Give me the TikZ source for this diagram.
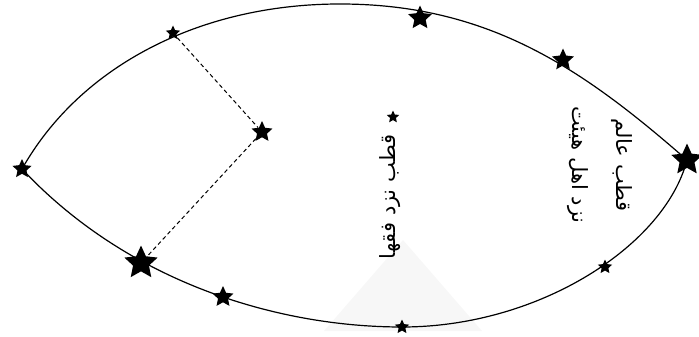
\documentclass[tikz,border=0pt]{standalone}
\usepackage{fontspec}
\newfontfamily\arabicfont[Script=Arabic]{DejaVu Sans}
\TeXXeTstate=1
\usetikzlibrary{shapes.geometric}

\begin{document}
\begin{tikzpicture}[x=1pt, y=-1pt,
    st/.style={star, star points=5, star point ratio=2.1, fill=black,
               inner sep=0pt, minimum size=#1},
    st/.default=15pt,
    rim/.style={line width=1.2pt},
    dsh/.style={line width=1pt, dash pattern=on 4pt off 3pt},
    lbl/.style={font=\arabicfont\fontsize{21}{44}\selectfont,
                align=center, inner sep=0pt}
  ]
  \useasboundingbox (0,0) rectangle (699,337);

  \fill[black!3] (403,240) -- (482,331) -- (324,331) -- cycle;

  % the two arcs of the lens
  \draw[rim] (22,169) .. controls (80,66) and (200,4) .. (340,4)
                      .. controls (490,4) and (584,70) .. (687,160);
  \draw[rim] (22,169) .. controls (130,284) and (280,327) .. (402,327)
                      .. controls (540,327) and (665,245) .. (687,160);

  \node[st=20pt] (tipL)  at (22,169) {};
  \node[st=15pt] (upL)   at (173,33) {};
  \node[st=22pt] (mid)   at (262,132) {};
  \node[st=35pt] (bigL)  at (141,263) {};
  \node[st=22pt] (lowL)  at (223,297) {};
  \node[st=15pt] (lowM)  at (402,327) {};
  \node[st=25pt] (upM)   at (420,18) {};
  \node[st=23pt] (upR)   at (563,60) {};
  \node[st=33pt] (tipR)  at (687,160) {};
  \node[st=15pt] (lowR)  at (605,267) {};

  \draw[dsh] (upL) -- (mid) -- (bigL);

  \node[st=13pt] (mark) at (393,117) {};
  \node[lbl, rotate=90] (faqih) at (390,197)
        {\beginR قطب نزد فقها\endR};
  \node[lbl, rotate=-90] (hayat) at (600,165)
        {\beginR قطب عالم\endR\\\beginR نزد اهل هیئت\endR};
\end{tikzpicture}
\end{document}
